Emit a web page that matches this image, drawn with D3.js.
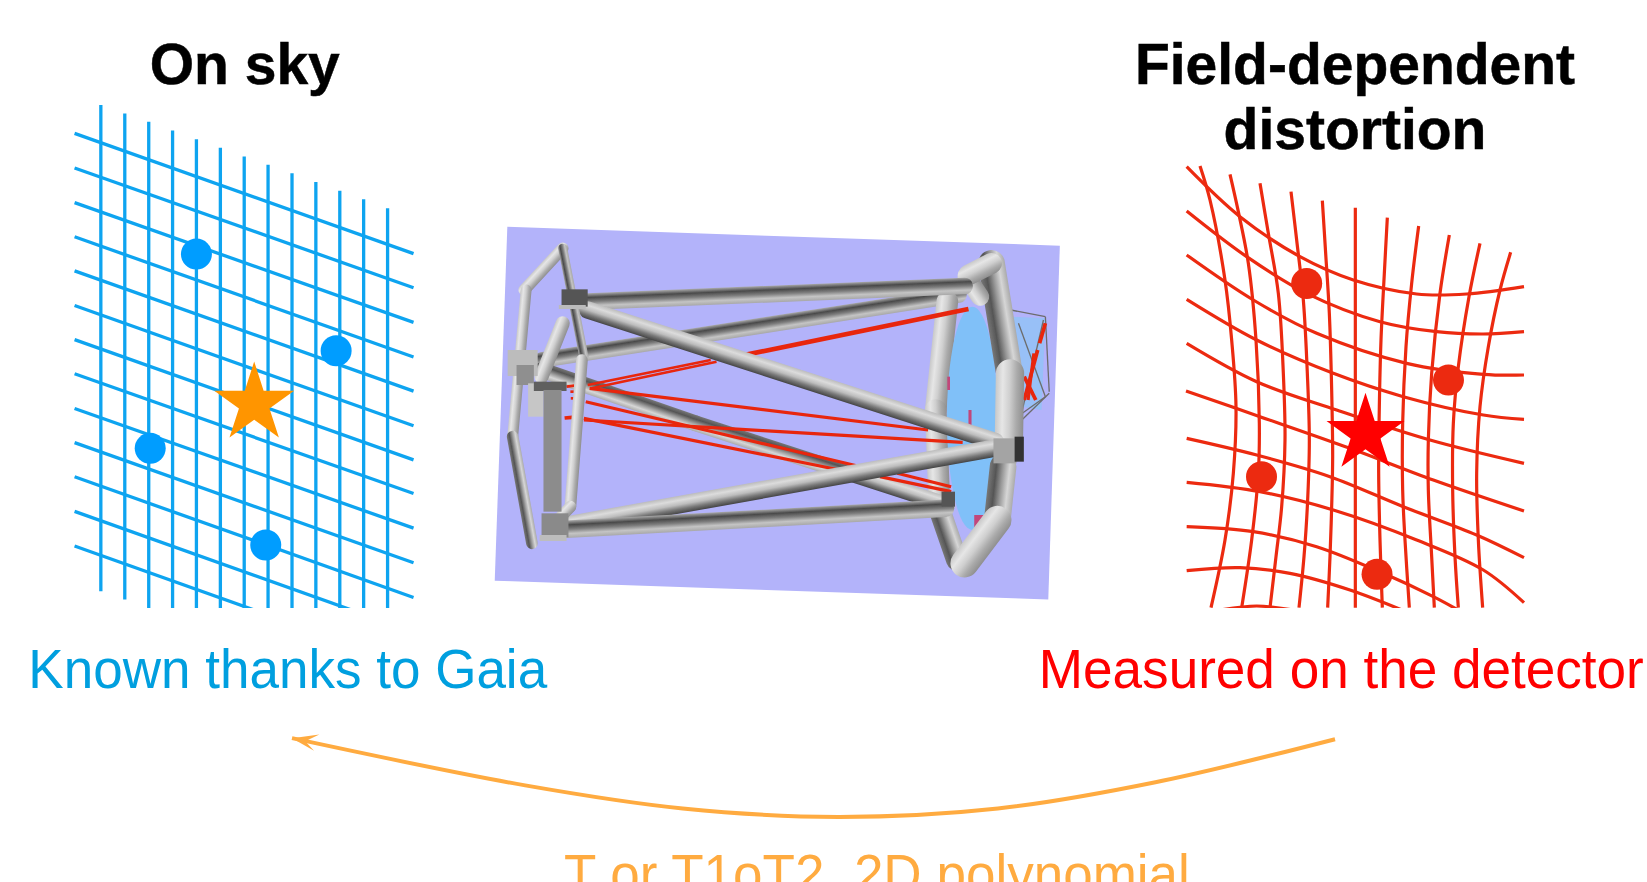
<!DOCTYPE html>
<html><head><meta charset="utf-8">
<script src="https://cdn.jsdelivr.net/npm/d3@7/dist/d3.min.js"></script>
<style>html,body{margin:0;padding:0;background:#fff;overflow:hidden}svg{display:block}text{font-family:"Liberation Sans",Arial,sans-serif}</style>
</head><body><svg id="c" width="1647" height="882"></svg>
<script>
// ---------- left grid (reference units) ----------
const skyVTop=[100,108,116,124.4,132.6,140.7,149,157,165,173.4,181.6,189.7,198.3];
const skyVX=[96,118.8,141.6,164.3,187,209.8,232.5,255.2,278,300.7,323.5,346.2,369];
const skyHLeft=[127,160,193,225.5,258,291,323.5,356,389,421.5,454,487,520];
const skyHRight=[241.5,274,307,340,372.5,405.5,438,470,503,536,569,602,635];
const skyDots=[[187,242],[320,334],[143,427],[253,519]];
const skyStar=[242,384.4];
// ---------- right grid (distorted) ----------
const detV=[
[[150,78],[180,180],[225,420],[245,600],[258,800],[250,1000],[225,1200],[183,1403]],
[[240,103],[265,215],[295,370],[318,600],[328,850],[325,1000],[305,1200],[275,1403]],
[[330,130],[355,280],[385,460],[400,700],[405,900],[395,1100],[378,1250],[360,1403]],
[[423,155],[440,300],[460,480],[472,700],[478,900],[472,1100],[462,1250],[447,1403]],
[[517,182],[527,340],[538,520],[545,750],[548,950],[545,1100],[540,1250],[533,1403]],
[[616,203],[616,400],[616,700],[616,1000],[616,1403]],
[[712,233],[703,400],[693,600],[688,800],[686,1000],[690,1200],[697,1403]],
[[806,258],[785,430],[768,620],[758,850],[758,1050],[765,1200],[778,1403]],
[[898,285],[870,460],[845,700],[835,900],[835,1050],[845,1250],[853,1403]],
[[990,310],[957,470],[925,680],[910,850],[908,1050],[915,1250],[925,1403]],
[[1082,337],[1050,450],[1015,620],[990,800],[980,1000],[985,1200],[998,1403]]];
const detH=[
[[110,80],[270,230],[450,350],[610,420],[800,462],[950,462],[1122,440]],
[[110,213],[290,350],[470,460],[690,545],[860,575],[1000,582],[1122,575]],
[[110,345],[310,480],[500,580],[770,670],[1000,703],[1122,705]],
[[110,478],[320,600],[550,700],[760,770],[1000,825],[1122,838]],
[[110,610],[320,725],[560,810],[840,900],[1122,970]],
[[108,753],[330,830],[600,925],[850,1020],[1122,1113]],
[[110,895],[320,945],[540,1010],[760,1100],[980,1185],[1122,1253]],
[[110,1027],[330,1055],[550,1110],[800,1200],[1000,1290],[1122,1388]],
[[110,1160],[310,1175],[500,1220],[700,1300],[850,1370],[960,1430]],
[[110,1292],[270,1283],[420,1300],[600,1350],[780,1420]],
[[110,1430],[320,1398],[530,1430]]];
const detDots=[[1244,270],[1379,362],[1201,454],[1311,547]];
const detStar=[1300,413];
// ---------- telescope ----------
const panel=[[483,216],[1009,234],[998,571],[471,553]];
const profiles={
 dark:["#a8a8a8","#4a4a4a","#7d7d7d","#c4c4c4","#a8a8a8"],
 light:["#bcbcbc","#dcdcdc","#bdbdbd","#777","#444"],
 pale:["#c8c8c8","#e6e6e6","#cfcfcf","#aaa","#8f8f8f"],
 ring:["#777","#555","#999","#d6d6d6","#aaa"]
};
const backTubes=[
[160,450,1245,255,38,"dark"],
[1215,275,1185,600,52,"pale"],[1185,600,1195,900,52,"pale"],
[1195,900,1240,1050,52,"ring"],
[160,480,560,640,38,"ring"],[560,640,960,790,38,"ring"],[960,790,1215,885,38,"light"]];
const frontTubes=[
[280,275,1260,228,40,"dark"],
[280,300,1340,695,42,"light"],
[225,945,1335,715,42,"light"],
[225,958,1210,895,42,"dark"]];
const frameTubes=[
[215,115,115,240,28,"pale"],[120,240,85,680,26,"pale"],[85,680,135,1000,28,"ring"],
[215,115,270,440,22,"dark"],[265,450,235,890,28,"pale"],[235,890,190,945,28,"pale"],
[215,340,160,500,34,"pale"]];
const ringTubes=[
[1330,160,1375,480,64,"ring"],[1378,490,1375,700,68,"pale"],[1360,770,1345,930,64,"ring"],
[1345,930,1260,1060,68,"pale"],[1265,200,1300,260,44,"pale"],[1330,160,1270,195,50,"pale"]];
const rays=[
[280,525,600,450,5],[290,535,615,455,5],[680,437,1270,297,9],
[285,535,1165,660,6],[270,630,1255,697,6],[275,575,990,770,6],[270,625,935,780,6],
[1040,800,1225,845,6],[1085,790,1225,830,6],
[1470,340,1455,400,7],[1450,420,1415,570,7],[1415,500,1445,570,7],[1440,430,1425,570,6],
[225,530,245,527,5],[235,545,247,545,5],[236,565,246,565,5],[220,624,240,622,7]];
const wires=[[1400,340,1470,560],[1465,330,1410,600],[1380,300,1470,320],[1470,320,1480,545],[1400,640,1480,550],[1410,610,1470,560]];
const blocks=[
[212,238,68,52,"#555"],[205,285,70,12,"#bbb"],[72,420,78,78,"#bcbcbc"],[95,465,45,60,"#8f8f8f"],
[125,520,40,100,"#c6c6c6"],[140,515,85,28,"#5e5e5e"],[165,540,47,365,"#8c8c8c"],
[160,910,70,72,"#8a8a8a"],[155,975,70,18,"#bdbdbd"],
[1335,685,60,75,"#a4a4a4"],[1390,680,24,75,"#333"],[1200,845,35,45,"#555"]];
const pinks=[[1285,915,25,45],[1215,500,7,40],[1270,600,8,45]];
const mirror=[1280,625,66,335];
const secondary=[[1375,320],[1470,325],[1460,600],[1410,590]];
// ---------- text and arrow ----------
const titleLines=[["On sky",233,80],["Field-dependent",1290,80],["distortion",1290,142]];
const labelLines=[["Known thanks to Gaia",27,655,494,"#009fdf"],["Measured on the detector",989,655,576,"#ff0000"],["T or T1oT2, 2D polynomial",537,850,596,"#ffab40"]];
const arrowCurve=[[1271,704],[1100,745],[950,770],[798,778],[650,770],[500,748],[278,703]];
const arrowHead=[[278,703],[304,699.5],[290.6,706],[299,715]];

const svg=d3.select("#c");
const W=1647,H=882;
const sx=d3.scaleLinear().domain([0,1568]).range([0,W]);
const sy=d3.scaleLinear().domain([0,840]).range([0,H]);
const dx=d3.scaleLinear().domain([0,1200]).range([1150,1550]);
const dy=d3.scaleLinear().domain([0,1470]).range([140,630]);
const tx=d3.scaleLinear().domain([0,1560]).range([480,1080]);
const ty=d3.scaleLinear().domain([0,1200]).range([210,610]);
const defs=svg.append("defs");
defs.append("clipPath").attr("id","skyClip").append("rect").attr("x",0).attr("y",0).attr("width",600).attr("height",sy(579));
defs.append("clipPath").attr("id","detClip").append("rect").attr("x",1100).attr("y",0).attr("width",540).attr("height",sy(579));
defs.append("filter").attr("id","soft").attr("x","-5%").attr("y","-5%").attr("width","110%").attr("height","110%")
  .append("feGaussianBlur").attr("stdDeviation",0.7);

// sky grid
const sky=svg.append("g").attr("clip-path","url(#skyClip)").attr("stroke","#0ea4f0").attr("stroke-width",3.3).attr("fill","none");
sky.selectAll(".v").data(skyVX).join("line").attr("x1",d=>sx(d)).attr("x2",d=>sx(d))
  .attr("y1",(d,i)=>sy(skyVTop[i])).attr("y2",(d,i)=>sy(skyVTop[i]+463));
sky.selectAll(".h").data(skyHLeft).join("line").attr("x1",sx(71)).attr("x2",sx(393.7))
  .attr("y1",d=>sy(d)).attr("y2",(d,i)=>sy(skyHRight[i]));
svg.append("g").selectAll("circle").data(skyDots).join("circle").attr("cx",d=>sx(d[0])).attr("cy",d=>sy(d[1])).attr("r",15.5).attr("fill","#009dff");

// star helper
const KA=0.8908130915292852;
function star(c,R,col){svg.append("path").attr("d",d3.symbol(d3.symbolStar,R*R/KA)()).attr("transform",`translate(${sx(c[0])},${sy(c[1])})`).attr("fill",col);}
star(skyStar,42,"#ff9500");

// distorted grid
const cl=d3.line().x(d=>dx(d[0])).y(d=>dy(d[1])).curve(d3.curveCatmullRom.alpha(0.5));
const det=svg.append("g").attr("clip-path","url(#detClip)").attr("fill","none").attr("stroke","#ec2a10").attr("stroke-width",3.2);
det.selectAll(".v").data(detV).join("path").attr("d",cl);
det.selectAll(".h").data(detH,(d,i)=>"h"+i).enter().append("path").attr("d",cl);
svg.append("g").selectAll("circle").data(detDots).join("circle").attr("cx",d=>sx(d[0])).attr("cy",d=>sy(d[1])).attr("r",15.5).attr("fill","#ec2a10");
star(detStar,41,"#ff0000");

// telescope
const scope=svg.append("g").attr("filter","url(#soft)");
scope.append("polygon").attr("points",panel.map(p=>[sx(p[0]),sy(p[1])].join(",")).join(" ")).attr("fill","#b3b3fa");
let gid=0;
function tubes(list){
  list.forEach(t=>{
    const [a,b,c,d,w,prof]=t;
    const x1=tx(a),y1=ty(b),x2=tx(c),y2=ty(d),lw=w/2.4;
    const L=Math.hypot(x2-x1,y2-y1),nx=-(y2-y1)/L,ny=(x2-x1)/L;
    const mx=(x1+x2)/2,my=(y1+y2)/2,id="g"+(gid++),stops=profiles[prof];
    const s=(nx+ny>0)?1:-1;
    const g=defs.append("linearGradient").attr("id",id).attr("gradientUnits","userSpaceOnUse")
      .attr("x1",mx-s*nx*lw/2).attr("y1",my-s*ny*lw/2).attr("x2",mx+s*nx*lw/2).attr("y2",my+s*ny*lw/2);
    stops.forEach((c,i)=>g.append("stop").attr("offset",i/(stops.length-1)).attr("stop-color",c));
    scope.append("line").attr("x1",x1).attr("y1",y1).attr("x2",x2).attr("y2",y2)
      .attr("stroke",`url(#${id})`).attr("stroke-width",lw).attr("stroke-linecap","round");
  });
}
function lines(list,col){
  list.forEach(r=>scope.append("line").attr("x1",tx(r[0])).attr("y1",ty(r[1])).attr("x2",tx(r[2])).attr("y2",ty(r[3]))
    .attr("stroke",col).attr("stroke-width",(r[4]||2.5)/1.9));
}
function rects(list){list.forEach(b=>scope.append("rect").attr("x",tx(b[0])).attr("y",ty(b[1])).attr("width",tx(b[0]+b[2])-tx(b[0])).attr("height",ty(b[1]+b[3])-ty(b[1])).attr("fill",b[4]));}
scope.append("polygon").attr("points",secondary.map(p=>[tx(p[0]),ty(p[1])].join(",")).join(" ")).attr("fill","#85c8f5").attr("opacity",.6);
lines(wires,"#6c6c6c");
tubes(backTubes);
scope.append("ellipse").attr("cx",tx(mirror[0])).attr("cy",ty(mirror[1])).attr("rx",tx(mirror[2])-tx(0)).attr("ry",ty(mirror[3])-ty(0)).attr("fill","#80c0f8");
lines(rays,"#e8260e");
rects(pinks.map(p=>[...p,"#c2477a"]));
tubes(ringTubes);
tubes(frontTubes);
tubes(frameTubes);
rects(blocks);

// text
svg.append("g").attr("fill","#000").attr("stroke","#000").attr("stroke-width",0.5).attr("font-weight","700").attr("font-size",57).attr("text-anchor","middle")
  .selectAll("text").data(titleLines).join("text").text(d=>d[0]).attr("x",d=>sx(d[1])).attr("y",d=>sy(d[2]));
svg.append("g").attr("font-size",55).selectAll("text").data(labelLines).join("text").text(d=>d[0])
  .attr("fill",d=>d[4])
  .attr("transform",function(d){const k=sx(d[3])/this.getComputedTextLength();return `translate(${sx(d[1])},${sy(d[2])}) scale(${k},1)`;});

// arrow
const al=d3.line().x(d=>sx(d[0])).y(d=>sy(d[1]));
svg.append("path").attr("d",al.curve(d3.curveCatmullRom)(arrowCurve)).attr("fill","none").attr("stroke","#ffab40").attr("stroke-width",4);
svg.append("path").attr("d",d3.line().x(d=>sx(d[0])).y(d=>sy(d[1])).curve(d3.curveLinearClosed)(arrowHead)).attr("fill","#ffab40");
</script></body></html>
